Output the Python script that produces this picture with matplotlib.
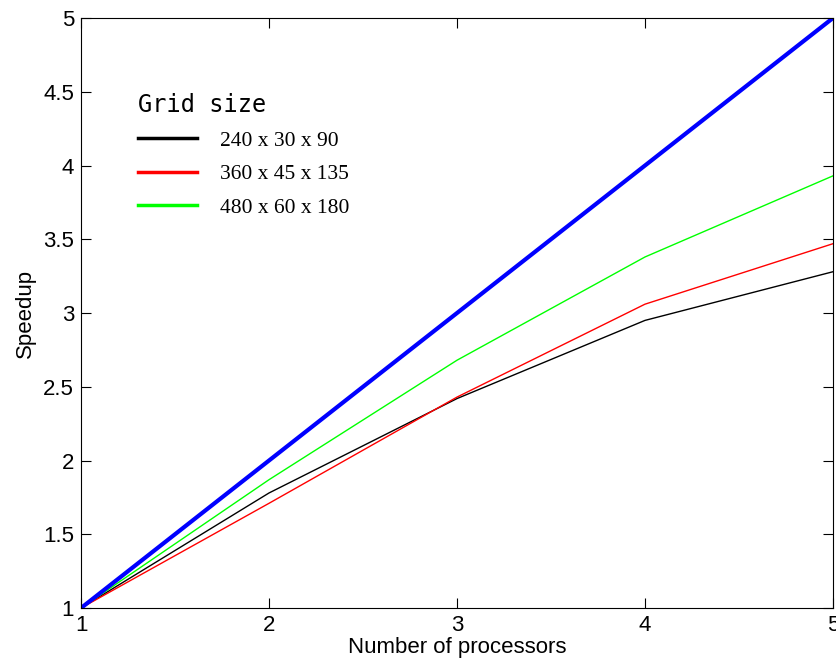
import matplotlib.pyplot as plt

# processors and measured speedups for each grid size
procs = [1, 2, 3, 4, 5]
ideal = [1, 2, 3, 4, 5]
sp_240 = [1.0, 1.78, 2.42, 2.95, 3.28]
sp_360 = [1.0, 1.71, 2.43, 3.06, 3.47]
sp_480 = [1.0, 1.87, 2.68, 3.38, 3.93]
labels = ['240 x 30 x 90', '360 x 45 x 135', '480 x 60 x 180']

plt.rcParams['font.family'] = ['Liberation Sans', 'DejaVu Sans']

fig = plt.figure(figsize=(8.37, 6.70), dpi=100)
ax = fig.add_axes([0.0968, 0.0925, 0.8984, 0.8806])

l1, = ax.plot(procs, sp_240, color='black', lw=1)
l2, = ax.plot(procs, sp_360, color='red', lw=1)
l3, = ax.plot(procs, sp_480, color='#00ff00', lw=1)
ax.plot(procs, ideal, color='blue', lw=3)

ax.set_xlim(1, 5)
ax.set_ylim(1, 5)
ax.set_xticks([1, 2, 3, 4, 5])
ax.set_yticks([1, 1.5, 2, 2.5, 3, 3.5, 4, 4.5, 5])
ax.set_yticklabels(['1', '1.5', '2', '2.5', '3', '3.5', '4', '4.5', '5'])
ax.tick_params(direction='in', top=True, right=True, labelsize=16, length=7, pad=5)
ax.set_xlabel('Number of processors', fontsize=16, labelpad=1)
ax.set_ylabel('Speedup', fontsize=16, labelpad=5)

# legend with thick handles, drawn from the same lines
leg = ax.legend([l1, l2, l3], labels, loc='upper left', bbox_to_anchor=(0.05, 0.905),
                frameon=False, title='Grid size', alignment='left',
                prop={'family': 'Liberation Serif', 'size': 15.5},
                title_fontproperties={'family': 'DejaVu Sans Mono', 'size': 17},
                handlelength=2.75, handletextpad=1.05, labelspacing=0.62)
for h in leg.legend_handles:
    h.set_linewidth(2.5)

fig.savefig('out.png', dpi=100)
